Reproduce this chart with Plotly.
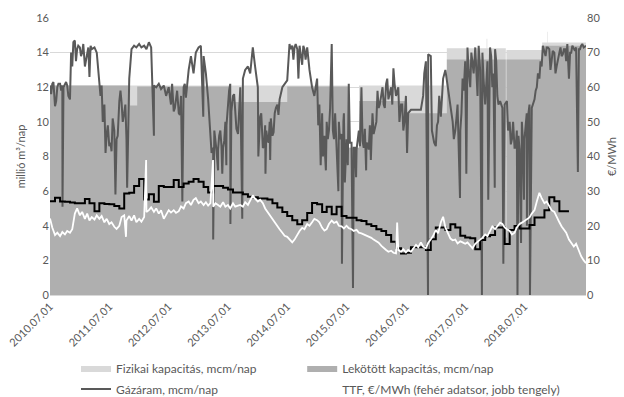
import pandas as pd
import plotly.graph_objects as go

# --- Fizikai / lekötött kapacitás (mcm/nap), lépcsős változási pontok ---
fiz_dates = ["2010-07-01", "2015-07-12", "2015-09-16", "2017-03-10", "2017-11-10", "2017-11-14",
             "2018-03-08", "2018-03-12", "2018-10-18", "2018-11-20", "2018-11-23", "2019-07-15"]
fiz_vals = [12.1, 8.5, 12.1, 14.25, 14.8, 14.25, 3.3, 14.15, 14.58, 15.2, 14.58, 14.58]

lek_dates = ["2010-07-01", "2011-11-06", "2011-12-20", "2013-07-16", "2014-07-01", "2015-07-12",
             "2015-09-16", "2016-07-01", "2017-03-10", "2018-03-08", "2018-03-12", "2018-10-18", "2019-07-15"]
lek_vals = [12.1, 10.95, 12.05, 11.15, 12.05, 8.5, 11.2, 10.5, 13.6, 3.3, 13.6, 14.4, 14.4]

# --- Gázáram (mcm/nap), félhavi értékek 2010-07-01-től ---
flow_vals = [
    12.1, 12.2, 10.9, 12.0, 12.2, 12.1, 12.2, 12.1, 11.3, 13.2, 14.7, 14.2, 14.3, 14.0, 13.2, 14.0,
    12.6, 14.2, 14.3, 14.0, 12.3, 12.1, 11.0, 9.3, 8.6, 8.3, 9.5, 9.0, 11.2, 11.1, 10.5, 9.0,
    12.5, 14.2, 14.4, 14.3, 14.5, 14.3, 14.4, 14.2, 14.6, 14.3, 12.1, 12.0, 12.2, 11.9, 12.1, 11.5,
    12.0, 11.0, 10.6, 11.3, 10.5, 11.5, 12.0, 11.4, 13.0, 13.8, 12.8, 14.0, 14.3, 14.4, 13.8, 12.8,
    11.3, 9.0, 8.5, 9.0, 8.4, 9.5, 8.5, 10.0, 11.3, 12.2, 11.5, 10.5, 9.3, 12.0, 12.5, 13.0,
    13.2, 12.8, 14.3, 13.2, 12.0, 10.3, 8.5, 9.8, 9.0, 10.0, 9.2, 10.5, 11.0, 11.3, 12.0, 12.2,
    12.4, 14.5, 14.4, 14.3, 14.2, 14.4, 13.3, 14.2, 14.3, 13.0, 12.0, 11.5, 12.5, 11.0, 10.5, 9.2,
    10.0, 9.5, 14.5, 9.0, 8.5, 10.0, 9.3, 10.5, 9.0, 12.2, 8.8, 8.5, 8.4, 9.5, 12.0, 8.5,
    8.8, 8.4, 9.0, 9.3, 10.0, 10.8, 11.5, 11.0, 12.2, 11.3, 12.0, 13.1, 11.5, 12.0, 11.0, 9.5,
    11.5, 10.5, 10.7, 10.7, 10.7, 10.7, 10.7, 11.5, 13.5, 13.9, 13.8, 9.0, 8.6, 10.0, 10.3, 12.5,
    13.0, 12.0, 11.0, 10.0, 9.5, 11.0, 9.5, 12.5, 13.5, 14.3, 12.0, 13.5, 14.3, 11.5, 13.0, 14.0,
    11.0, 13.5, 14.3, 12.0, 14.2, 11.5, 11.2, 10.8, 11.0, 11.2, 10.0, 9.0, 8.5, 9.5, 8.4, 10.0,
    9.0, 10.5, 11.0, 10.8, 11.3, 12.0, 12.5, 13.2, 14.0, 14.3, 14.2, 13.5, 14.0, 13.2, 14.0, 13.8,
    14.2, 13.5, 12.5, 14.0, 14.2, 14.3, 14.2, 14.4, 14.3, 14.4,
]
# köztes napi értékek (a félhavi pontok közötti ingadozás)
mid_dates = [
    "2010-07-08", "2010-07-22", "2010-08-08", "2010-08-22", "2010-09-08", "2010-09-22", "2010-10-08", "2010-10-22",
    "2010-11-08", "2010-11-22", "2010-12-08", "2010-12-22", "2011-01-08", "2011-01-22", "2011-02-08", "2011-02-22",
    "2011-03-08", "2011-05-08", "2011-05-22", "2011-06-08", "2011-06-22", "2011-07-08", "2011-07-22", "2011-08-22",
    "2011-09-08", "2011-09-22", "2011-10-08", "2012-07-08", "2012-07-22", "2012-08-08", "2012-08-22", "2012-09-08",
    "2012-10-08", "2013-03-08", "2013-03-22", "2013-04-08", "2013-04-22", "2013-05-08", "2013-05-22", "2013-06-08",
    "2013-06-22", "2013-07-08", "2013-07-22", "2013-08-08", "2013-08-22", "2013-09-08", "2014-01-08", "2014-01-22",
    "2014-02-08", "2014-02-22", "2014-03-08", "2014-03-22", "2014-04-08", "2014-04-22", "2014-05-08", "2014-07-22",
    "2014-08-08", "2014-08-22", "2014-09-08", "2014-09-22", "2014-10-08", "2014-10-22", "2015-01-08", "2015-02-15",
    "2015-03-08", "2015-03-22", "2015-04-08", "2015-04-22", "2015-05-22", "2015-06-12", "2015-07-01", "2015-07-22",
    "2015-08-22", "2015-09-08", "2015-09-22", "2015-10-08", "2015-10-22", "2015-11-08", "2015-11-22", "2015-12-08",
    "2016-01-08", "2016-01-22", "2016-02-08", "2016-02-22", "2016-03-08", "2016-04-08", "2016-04-22", "2016-05-22",
    "2016-06-08", "2016-06-22", "2016-10-22", "2016-12-08", "2016-12-22", "2017-01-08", "2017-01-22", "2017-03-22",
    "2017-04-08", "2017-04-22", "2017-05-08", "2017-06-08", "2017-06-22", "2017-07-22", "2017-08-08", "2017-08-22",
    "2017-09-08", "2017-09-22", "2017-10-22", "2017-11-08", "2017-12-08", "2017-12-22", "2018-01-08", "2018-01-22",
    "2018-03-22", "2018-04-08", "2018-04-22", "2018-05-08", "2018-05-25", "2018-06-22", "2018-07-22", "2018-08-22",
    "2018-09-08", "2018-09-22", "2018-10-08", "2018-10-22", "2018-11-08", "2018-11-22", "2018-12-08", "2018-12-22",
    "2019-01-08", "2019-01-22", "2019-02-08", "2019-02-22", "2019-03-08", "2019-03-22", "2019-04-08", "2019-04-22",
    "2019-05-08", "2019-06-08", "2019-06-22",
]
mid_vals = [
    11.6, 12.3, 11.2, 12.2, 11.8, 12.0, 12.3, 11.5,
    14.0, 14.6, 13.5, 14.4, 13.8, 14.5, 13.6, 14.3,
    14.4, 11.5, 10.0, 8.2, 9.8, 8.8, 10.2, 9.2,
    11.8, 10.0, 11.0, 11.5, 12.2, 10.8, 11.8, 10.4,
    12.2, 10.0, 8.2, 9.5, 8.3, 9.2, 8.6, 8.9,
    9.8, 11.8, 10.6, 11.6, 9.6, 10.5, 9.0, 10.5,
    8.6, 9.5, 8.8, 10.2, 9.4, 10.8, 10.4, 14.2,
    13.6, 14.5, 12.5, 14.0, 14.4, 13.6, 9.8, 8.8,
    9.0, 10.8, 9.5, 10.5, 9.0, 10.0, 8.6, 8.8,
    8.5, 9.2, 8.6, 8.9, 9.6, 8.7, 9.8, 10.5,
    11.8, 11.0, 12.0, 10.8, 12.5, 11.0, 12.2, 10.0,
    11.0, 10.0, 12.8, 9.5, 8.8, 9.8, 11.5, 11.8,
    10.5, 9.0, 10.2, 10.5, 11.8, 13.0, 14.0, 12.8,
    13.0, 14.4, 12.5, 12.2, 13.8, 12.8, 13.5, 11.0,
    9.5, 8.7, 10.0, 8.5, 9.2, 8.8, 10.2, 11.0,
    11.8, 12.8, 13.5, 14.4, 13.8, 14.3, 13.0, 14.1,
    12.8, 13.6, 14.3, 13.9, 14.2, 14.5, 14.0, 14.4,
    14.1, 14.2, 14.5,
]
# egynapos visszaesések
dip_dates = ["2010-09-16", "2011-08-08", "2011-10-19", "2012-04-01", "2012-09-23", "2013-01-30",
             "2013-04-01", "2013-05-01", "2013-05-27", "2013-06-21", "2013-07-16", "2013-09-27",
             "2014-01-04", "2014-02-17", "2014-03-18", "2015-01-23", "2015-02-06", "2015-02-24",
             "2015-05-12", "2015-06-03", "2015-06-21", "2015-07-09", "2015-08-10", "2015-08-29",
             "2015-10-30", "2015-11-28", "2016-07-08", "2016-11-14", "2017-05-30", "2017-07-08",
             "2017-10-12", "2017-11-20", "2017-12-30", "2018-02-21", "2018-05-19", "2018-06-10",
             "2018-06-28", "2018-07-16", "2018-08-04", "2019-05-26"]
dip_vals = [5.1, 5.8, 6.2, 9.2, 5.4, 10.3, 3.2, 7.2, 7.0, 7.5, 4.1, 4.4, 8.0, 7.0, 7.8, 7.5, 8.0, 7.2,
            6.0, 1.8, 6.5, 7.5, 0.4, 6.8, 7.2, 7.8, 8.2, 0.0, 5.6, 7.0, 0.0, 5.5, 6.2, 1.8, 0.0, 3.0,
            5.5, 4.0, 0.0, 7.1]

# --- TTF (€/MWh), félhavi értékek ---
ttf_vals = [
    22.1, 19.5, 17.3, 18.0, 17.0, 18.2, 17.5, 18.5, 18.0, 19.0, 23.5, 25.0, 23.0, 24.0, 22.0, 23.5,
    21.5, 22.5, 21.8, 23.0, 22.0, 22.8, 21.0, 22.0, 20.5, 21.0, 19.7, 19.1, 20.0, 22.5, 23.0, 21.5,
    22.8, 21.5, 23.0, 21.0, 22.0, 21.2, 22.5, 24.0, 24.5, 25.3, 24.0, 25.0, 23.5, 24.5, 22.0, 23.0,
    24.5, 23.8, 24.5, 23.7, 24.2, 25.6, 25.0, 26.5, 27.0, 26.0, 27.5, 28.0, 26.5, 27.0, 26.0, 26.8,
    25.8, 26.5, 25.5, 26.5, 26.0, 25.5, 26.8, 25.5, 26.0, 25.0, 26.5, 25.5, 25.8, 26.0, 25.5, 26.8,
    26.0, 27.5, 28.8, 27.8, 27.0, 27.5, 26.5, 25.0, 24.0, 23.0, 22.0, 20.9, 20.0, 19.0, 18.0, 17.1,
    16.8, 16.0, 15.2, 16.0, 17.5, 18.5, 19.4, 19.0, 20.5, 20.0, 21.0, 22.0, 21.6, 21.0, 19.4, 18.6,
    19.0, 20.5, 21.5, 20.8, 21.2, 20.0, 19.8, 19.2, 20.0, 19.3, 19.0, 18.5, 18.8, 18.0, 17.8, 17.5,
    17.1, 17.0, 16.5, 16.0, 15.5, 15.1, 14.2, 13.5, 13.0, 12.5, 12.8, 12.2, 12.0, 13.0, 12.5, 13.2,
    12.3, 13.0, 12.5, 13.5, 14.5, 13.8, 15.2, 14.0, 13.5, 15.0, 16.0, 17.0, 18.8, 17.8, 21.0, 22.6,
    19.5, 18.0, 16.3, 15.8, 16.0, 14.9, 15.5, 15.2, 14.8, 15.2, 14.4, 13.5, 14.8, 15.5, 16.0, 16.5,
    17.5, 17.0, 18.5, 19.8, 19.0, 20.0, 20.9, 20.5, 19.5, 19.0, 18.5, 17.5, 18.0, 19.5, 20.5, 20.9,
    21.5, 22.0, 22.4, 23.5, 24.5, 27.0, 29.5, 28.0, 26.5, 27.0, 25.5, 24.5, 24.0, 22.5, 21.0, 19.8,
    19.0, 18.0, 16.0, 15.0, 14.0, 14.8, 12.5, 11.2, 10.0, 9.2,
]
ttf_spike_dates = ["2011-10-12", "2012-02-13", "2013-03-31", "2016-05-08"]
ttf_spike_vals = [16.8, 39.0, 39.0, 20.9]

# --- havi lépcsős ársor (€/MWh), 2010-07-től 2019-03-ig ---
havi_vals = [
    27.1, 28.1, 27.0, 26.9, 26.7, 26.5, 26.5, 27.7, 26.5, 24.2, 26.5, 26.3, 26.2, 25.7, 25.0, 29.3,
    29.5, 31.5, 33.5, 27.6, 29.1, 26.9, 31.5, 31.2, 31.2, 33.2, 31.2, 32.2, 32.7, 33.5, 32.7, 31.2,
    29.6, 31.5, 31.5, 31.0, 30.5, 29.6, 29.6, 29.1, 28.4, 28.2, 27.9, 27.9, 27.6, 26.5, 25.3, 24.0,
    22.8, 21.6, 20.4, 21.6, 23.7, 26.6, 26.2, 24.0, 25.5, 23.3, 25.5, 22.8, 22.3, 22.3, 21.6, 21.4,
    20.4, 19.9, 19.0, 18.5, 17.3, 15.4, 13.5, 12.0, 12.2, 13.8, 13.8, 13.8, 13.0, 16.1, 19.5, 19.5,
    18.8, 20.4, 19.5, 17.1, 16.6, 16.4, 13.2, 15.9, 17.0, 17.3, 19.5, 19.5, 14.7, 18.8, 19.9, 19.2,
    19.2, 20.2, 22.4, 22.4, 24.5, 28.2, 27.1, 24.2, 24.2,
]

tick_dates = ["2010-07-01", "2011-07-01", "2012-07-01", "2013-07-01", "2014-07-01",
              "2015-07-01", "2016-07-01", "2017-07-01", "2018-07-01"]
tick_text = ["2010.07.01", "2011.07.01", "2012.07.01", "2013.07.01", "2014.07.01",
             "2015.07.01", "2016.07.01", "2017.07.01", "2018.07.01"]

# félhavi rács (1. és 15. nap)
half_grid = pd.date_range("2010-07-01", "2019-07-15", freq="SMS")

flow = pd.concat([
    pd.Series(flow_vals, index=half_grid[:len(flow_vals)]),
    pd.Series(mid_vals, index=pd.to_datetime(mid_dates)),
    pd.Series(dip_vals, index=pd.to_datetime(dip_dates)),
]).sort_index()

ttf = pd.concat([
    pd.Series(ttf_vals, index=half_grid[:len(ttf_vals)]),
    pd.Series(ttf_spike_vals, index=pd.to_datetime(ttf_spike_dates)),
]).sort_index()

month_grid = pd.date_range("2010-07-01", periods=len(havi_vals) + 1, freq="MS")
havi = havi_vals + [havi_vals[-1]]

FONT = "Lato"
GREY_TXT = "#595959"

fig = go.Figure()
fig.add_trace(go.Scatter(
    x=pd.to_datetime(fiz_dates), y=fiz_vals, name="Fizikai kapacitás, mcm/nap", legend="legend",
    mode="lines", line=dict(shape="hv", width=0, color="#d9d9d9"),
    fill="tozeroy", fillcolor="#d9d9d9"))
fig.add_trace(go.Scatter(
    x=pd.to_datetime(lek_dates), y=lek_vals, name="Lekötött kapacitás, mcm/nap", legend="legend2",
    mode="lines", line=dict(shape="hv", width=0, color="#afafaf"),
    fill="tozeroy", fillcolor="#afafaf"))
fig.add_trace(go.Scatter(
    x=flow.index, y=flow.values, name="Gázáram, mcm/nap", legend="legend3",
    mode="lines", line=dict(color="#595959", width=2)))
fig.add_trace(go.Scatter(
    x=month_grid, y=havi, name="havi ár", showlegend=False, yaxis="y2",
    mode="lines", line=dict(shape="hv", color="#000000", width=2)))
fig.add_trace(go.Scatter(
    x=ttf.index, y=ttf.values, name="TTF, €/MWh (fehér adatsor, jobb tengely)", yaxis="y2",
    legend="legend4", mode="lines", line=dict(color="#ffffff", width=1.8)))

# jelmagyarázat: két sor, két oszlop
col_x = [0.0485, 0.4705]
row_y = [-0.2635, -0.339]


def legend_box(x, y):
    return dict(orientation="h", x=x, xanchor="left", y=y, yanchor="middle",
                font=dict(family=FONT, size=12, color=GREY_TXT), bgcolor="rgba(0,0,0,0)")


fig.update_layout(
    width=624, height=397,
    margin=dict(l=50, r=38, t=18, b=102, autoexpand=False),
    paper_bgcolor="white", plot_bgcolor="white",
    font=dict(family=FONT, size=11, color=GREY_TXT),
    showlegend=True,
    legend=legend_box(col_x[0], row_y[0]),
    legend2=legend_box(col_x[1], row_y[0]),
    legend3=legend_box(col_x[0], row_y[1]),
    legend4=legend_box(col_x[1], row_y[1]),
    xaxis=dict(type="date", range=["2010-07-01", "2019-07-15"],
               tickvals=pd.to_datetime(tick_dates), ticktext=tick_text, tickangle=-45,
               showgrid=False, showline=True, linecolor="#d9d9d9", linewidth=1,
               ticks="", tickfont=dict(size=11, color=GREY_TXT), zeroline=False),
    yaxis=dict(range=[0, 16], dtick=2, showgrid=True, gridcolor="#d9d9d9", gridwidth=1,
               zeroline=False, ticks="", tickfont=dict(size=11, color=GREY_TXT),
               title=dict(text="millió m³/nap", font=dict(size=11, color=GREY_TXT), standoff=8)),
    yaxis2=dict(range=[0, 80], dtick=10, overlaying="y", side="right", showgrid=False,
                zeroline=False, ticks="", tickfont=dict(size=11, color=GREY_TXT),
                title=dict(text="€/MWh", font=dict(size=11, color=GREY_TXT), standoff=8)),
)

fig.write_html("out.html")
